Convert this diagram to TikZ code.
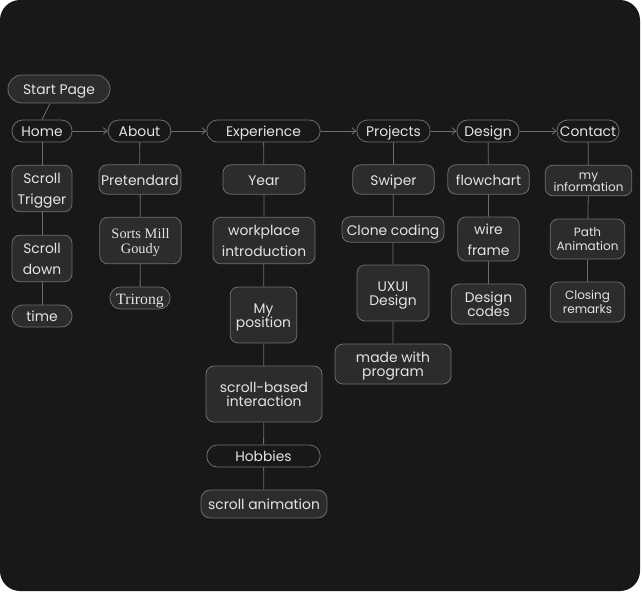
\documentclass[tikz,border=0pt]{standalone}
\usepackage{fontspec}
\setmainfont{Poppins}
\newfontfamily\serifface{Liberation Serif}
\usetikzlibrary{arrows.meta}
\definecolor{bgdark}{HTML}{181818}
\definecolor{boxfill}{HTML}{2C2C2C}
\definecolor{edgegray}{HTML}{6E6E6E}
\definecolor{textgray}{HTML}{E4E4E4}
% struts for first and last line of a node text
\newcommand\ststart{\rule{0pt}{1.1em}}
\newcommand\stend{\rule[-0.3em]{0pt}{0pt}}

\begin{document}
\begin{tikzpicture}[x=0.75pt,y=-0.75pt,
  every node/.style={text=textgray,inner sep=0pt,align=center,font=\fontsize{10.4}{12.4}\selectfont},
  one/.style={execute at begin node=\ststart,execute at end node=\stend},
  tight/.style={font=\fontsize{10.4}{10.6}\selectfont},
  pill/.style={one,draw=edgegray,line width=0.6pt,rounded corners=8pt,minimum height=16.5pt},
  pillfill/.style={pill,fill=boxfill},
  box/.style={draw=edgegray,line width=0.6pt,fill=boxfill,rounded corners=6pt},
  small/.style={font=\fontsize{9}{9.9}\selectfont},
  link/.style={draw=edgegray,line width=0.6pt},
  flow/.style={link,-{Straight Barb[length=3pt,width=5pt]}}]
\useasboundingbox (0,0) rectangle (642,593);
\fill[bgdark,rounded corners=15pt] (0,0) rectangle (640,591);

% top row
\node[pillfill,minimum width=76.5pt,minimum height=21pt,rounded corners=10.5pt] (start) at (59,89) {Start Page};
\node[pill,minimum width=45pt] (home) at (42,131) {Home};
\node[pill,minimum width=47pt] (about) at (139.5,131) {About};
\node[pill,minimum width=85pt] (exp) at (263.5,131) {Experience};
\node[pill,minimum width=55pt] (proj) at (393.5,131) {Projects};
\node[pill,minimum width=46.5pt] (design) at (488,131) {Design};
\node[pill,minimum width=46.5pt] (contact) at (588,131) {Contact};

\draw[link] (start.south) ++(-9,0) coordinate (startfoot) -- (home.north);
\draw[flow] (home) -- (about);
\draw[flow] (about) -- (exp);
\draw[flow] (exp) -- (proj);
\draw[flow] (proj) -- (design);
\draw[flow] (design) -- (contact);

% home
\node[box,minimum width=45pt,minimum height=35pt] (trigger) at (42,188.5) {\ststart Scroll\\[3.3pt]Trigger\stend};
\node[box,minimum width=45pt,minimum height=35pt] (down) at (42,258.5) {\ststart Scroll\\[3.3pt]down\stend};
\node[pillfill,minimum width=45pt] (time) at (42,316) {time};
\draw[link] (home) -- (trigger) -- (down) -- (time);

% about
\node[box,one,minimum width=61.5pt,minimum height=22pt] (pretendard) at (140,179.5) {Pretendard};
\node[box,minimum width=61pt,minimum height=35pt,font=\serifface\fontsize{10.8}{11}\selectfont] (goudy) at (140.5,240.5) {\ststart Sorts Mill\\Goudy\stend};
\node[pillfill,minimum width=45pt,font=\serifface\fontsize{11.8}{12}\selectfont] (trirong) at (140,298) {Trirong};
\draw[link] (about) -- (pretendard) -- (goudy) -- (trirong);

% experience
\node[box,one,minimum width=61.5pt,minimum height=22pt] (year) at (264,179.5) {Year};
\node[box,minimum width=76.5pt,minimum height=35pt] (workplace) at (264,240.5) {\ststart workplace\\[3.3pt]introduction\stend};
\node[box,tight,minimum width=50pt,minimum height=42pt] (mypos) at (263.5,315) {\ststart My\\position\stend};
\node[box,tight,minimum width=87pt,minimum height=42pt] (scrollbased) at (264,394) {\ststart scroll-based\\interaction\stend};
\node[pill,minimum width=85pt] (hobbies) at (263.5,456) {Hobbies};
\node[box,one,minimum width=94.5pt,minimum height=21pt,rounded corners=7pt] (scrollanim) at (264,504) {scroll animation};
\draw[link] (exp) -- (year) -- (workplace) -- (mypos) -- (scrollbased) -- (hobbies) -- (scrollanim);

% projects
\node[box,one,minimum width=61pt,minimum height=22pt] (swiper) at (393.5,179.5) {Swiper};
\node[box,one,minimum width=76.5pt,minimum height=19pt] (clone) at (393,229.5) {Clone coding};
\node[box,tight,minimum width=54pt,minimum height=42pt] (uxui) at (393,293) {\ststart UXUI\\Design\stend};
\node[box,tight,minimum width=87pt,minimum height=30pt] (made) at (393,364) {\ststart made with\\program\stend};
\draw[link] (proj) -- (swiper) -- (clone) -- (uxui) -- (made);

% design
\node[box,one,minimum width=61pt,minimum height=22pt] (flowchart) at (488.5,179.5) {flowchart};
\node[box,minimum width=46pt,minimum height=33pt] (wire) at (488.5,239) {\ststart wire\\[3.3pt]frame\stend};
\node[box,tight,minimum width=56pt,minimum height=30pt] (codes) at (488.5,304) {\ststart Design\\codes\stend};
\draw[link] (design) -- (flowchart) -- (wire) -- (codes);

% contact
\node[box,small,font=\fontsize{9}{9.2}\selectfont,minimum width=65pt,minimum height=23pt] (myinfo) at (588.5,180.5) {\ststart my\\information\stend};
\node[box,small,minimum width=56pt,minimum height=30pt] (pathanim) at (587.5,239) {\ststart Path\\[0.6pt]Animation\stend};
\node[box,small,minimum width=56pt,minimum height=30pt] (closing) at (587.5,302) {\ststart Closing\\[0.6pt]remarks\stend};
\draw[link] (contact) -- (myinfo) -- (pathanim) -- (closing);
\end{tikzpicture}
\end{document}
